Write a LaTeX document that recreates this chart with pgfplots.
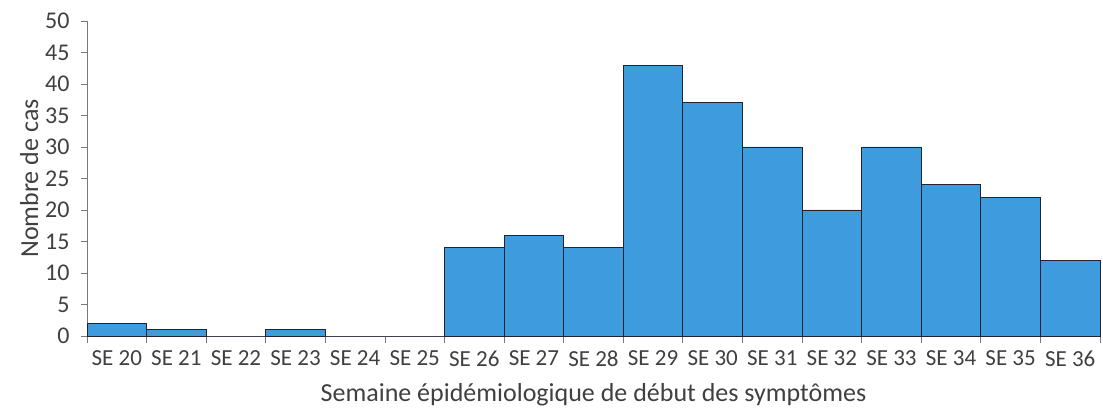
\documentclass[border=0pt]{standalone}
\usepackage{pgfplots}
\pgfplotsset{compat=1.18}
\usepackage{fontspec}
\setmainfont{Carlito}
\definecolor{barblue}{RGB}{62,156,222}
\definecolor{edgec}{RGB}{35,35,45}
\definecolor{axgray}{RGB}{120,120,120}
\begin{document}
\begin{tikzpicture}
\begin{axis}[
  name=ax,
  at={(0,0)}, anchor=south west,
  scale only axis,
  width=1013pt, height=315pt,
  xmin=-0.5, xmax=16.5,
  ymin=0, ymax=50,
  axis x line=bottom, axis y line=left,
  axis line style={-, draw=axgray, line width=0.8pt},
  ytick={0,5,...,50},
  xtick={0,...,16},
  xticklabels={SE 20,SE 21,SE 22,SE 23,SE 24,SE 25,SE 26,SE 27,SE 28,SE 29,SE 30,SE 31,SE 32,SE 33,SE 34,SE 35,SE 36},
  minor xtick={-0.5,0.5,...,16.5},
  major x tick style={draw=none},
  minor x tick style={draw=axgray, line width=0.8pt},
  y tick style={draw=axgray, line width=0.8pt},
  tick align=outside,
  major tick length=6pt, minor tick length=7pt,
  xticklabel style={font=\fontsize{23}{25}\selectfont, text=black!75, yshift=-5pt},
  yticklabel style={font=\fontsize{24}{26}\selectfont, text=black!75, xshift=-8pt},
  /pgf/number format/assume math mode=true,
  xlabel={Semaine épidémiologique de début des symptômes},
  ylabel={Nombre de cas},
  label style={font=\fontsize{26}{29}\selectfont, text=black!75},
  xlabel style={yshift=-10pt},
  ylabel style={yshift=0pt},
  clip=false,
]
\addplot[ybar, bar width=1, fill=barblue, draw=edgec, line width=0.9pt] coordinates {
(0,2) (1,1) (2,0) (3,1) (4,0) (5,0) (6,14) (7,16) (8,14) (9,43) (10,37) (11,30) (12,20) (13,30) (14,24) (15,22) (16,12)
};
\end{axis}
\pgfresetboundingbox
\path[use as bounding box] ([xshift=-87pt,yshift=-80pt]ax.south west) rectangle ([xshift=3pt,yshift=21pt]ax.north east);
\end{tikzpicture}
\end{document}
